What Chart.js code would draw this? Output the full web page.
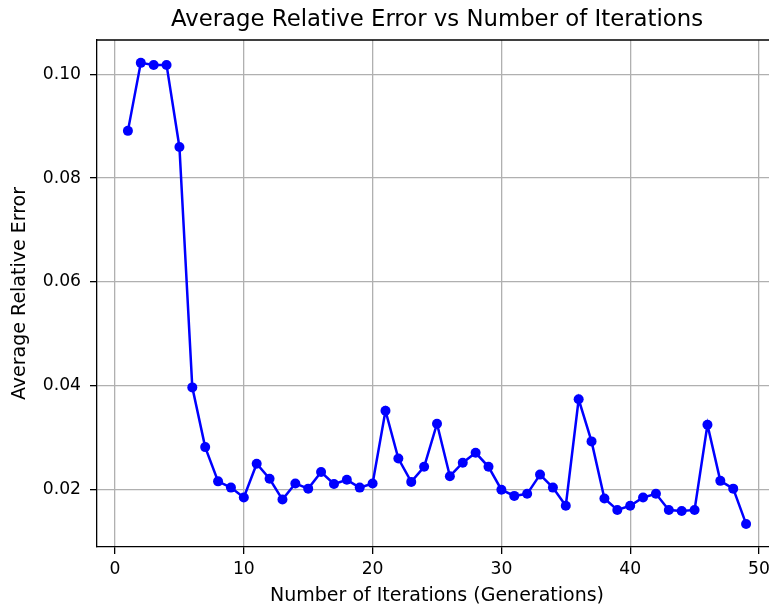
<!DOCTYPE html>
<html>
<head>
<meta charset="utf-8">
<script src="https://cdn.jsdelivr.net/npm/chart.js@4/dist/chart.umd.min.js"></script>
<style>
  html, body { margin: 0; padding: 0; background: #fff; overflow: hidden; }
  canvas { display: block; }
</style>
</head>
<body>
<!-- the original figure is cut off on the right, so the canvas runs past the window -->
<canvas id="chart" width="782" height="608"></canvas>
<script>
// iterations (generations)
const iterations = [
  1, 2, 3, 4, 5, 6, 7, 8, 9, 10,
  11, 12, 13, 14, 15, 16, 17, 18, 19, 20,
  21, 22, 23, 24, 25, 26, 27, 28, 29, 30,
  31, 32, 33, 34, 35, 36, 37, 38, 39, 40,
  41, 42, 43, 44, 45, 46, 47, 48, 49
];
// average relative error
const avgError = [
  0.0891, 0.1022, 0.1018, 0.1018, 0.0860, 0.0397, 0.0282, 0.0216, 0.0204, 0.0185,
  0.0250, 0.0221, 0.0181, 0.0212, 0.0202, 0.0234, 0.0211, 0.0219, 0.0204, 0.0212,
  0.0352, 0.0260, 0.0215, 0.0244, 0.0327, 0.0226, 0.0252, 0.0271, 0.0244, 0.0200,
  0.0188, 0.0192, 0.0229, 0.0204, 0.0169, 0.0374, 0.0293, 0.0183, 0.0161, 0.0169,
  0.0185, 0.0192, 0.0161, 0.0159, 0.0161, 0.0325, 0.0217, 0.0202, 0.0134
];
const xTicks = [0, 10, 20, 30, 40, 50];
const yTicks = [0.02, 0.04, 0.06, 0.08, 0.10];

const titleText = "Average Relative Error vs Number of Iterations";
const font = "'DejaVu Sans', sans-serif";

// title centred over the axes, plus the top and right spines
const frame = {
  id: "frame",
  afterDraw(chart) {
    const { ctx, chartArea } = chart;
    ctx.save();
    ctx.strokeStyle = "#000";
    ctx.lineWidth = 1.3;
    ctx.beginPath();
    ctx.moveTo(chartArea.left, chartArea.top);
    ctx.lineTo(chartArea.right, chartArea.top);
    ctx.lineTo(chartArea.right, chartArea.bottom);
    ctx.stroke();
    const cx = (chartArea.left + chartArea.right) / 2;
    ctx.fillStyle = "#000";
    ctx.font = "22.8px " + font;
    ctx.textAlign = "center";
    ctx.textBaseline = "middle";
    ctx.fillText(titleText, cx, 20);
    ctx.restore();
  }
};

new Chart(document.getElementById("chart"), {
  type: "line",
  data: {
    datasets: [{
      data: iterations.map((x, i) => ({ x: x, y: avgError[i] })),
      borderColor: "#0000ff",
      backgroundColor: "#0000ff",
      borderWidth: 2.5,
      pointRadius: 5,
      pointHoverRadius: 5,
      pointBorderWidth: 0,
      tension: 0
    }]
  },
  options: {
    responsive: false,
    animation: false,
    layout: { padding: { top: 40, left: 0, right: 0, bottom: 0 } },
    plugins: {
      legend: { display: false },
      tooltip: { enabled: false }
    },
    scales: {
      x: {
        type: "linear",
        min: -1.4,
        max: 51.4,
        afterBuildTicks: (s) => { s.ticks = xTicks.map(v => ({ value: v })); },
        afterFit: (s) => { s.height = 61; s.paddingLeft = 0; s.paddingRight = 0; },
        grid: { color: "#b0b0b0", lineWidth: 1.3, tickColor: "#000", tickLength: 7 },
        border: { display: true, color: "#000", width: 1.3 },
        ticks: {
          color: "#000",
          padding: 5,
          maxRotation: 0,
          font: { family: font, size: 17.2 },
          callback: (v) => String(v)
        },
        title: {
          display: true,
          text: "Number of Iterations (Generations)",
          color: "#000",
          font: { family: font, size: 19 },
          padding: { top: 0, bottom: 1 }
        }
      },
      y: {
        min: 0.00896,
        max: 0.1066,
        afterBuildTicks: (s) => { s.ticks = yTicks.map(v => ({ value: v })); },
        afterFit: (s) => { s.width = 97; s.paddingTop = 0; s.paddingBottom = 0; },
        grid: { color: "#b0b0b0", lineWidth: 1.3, tickColor: "#000", tickLength: 7 },
        border: { display: true, color: "#000", width: 1.3 },
        ticks: {
          color: "#000",
          padding: 9,
          font: { family: font, size: 17.2 },
          callback: (v) => v.toFixed(2)
        },
        title: {
          display: true,
          text: "Average Relative Error",
          color: "#000",
          font: { family: font, size: 19 },
          padding: { top: 9, bottom: 0 }
        }
      }
    }
  },
  plugins: [frame]
});
</script>
</body>
</html>
